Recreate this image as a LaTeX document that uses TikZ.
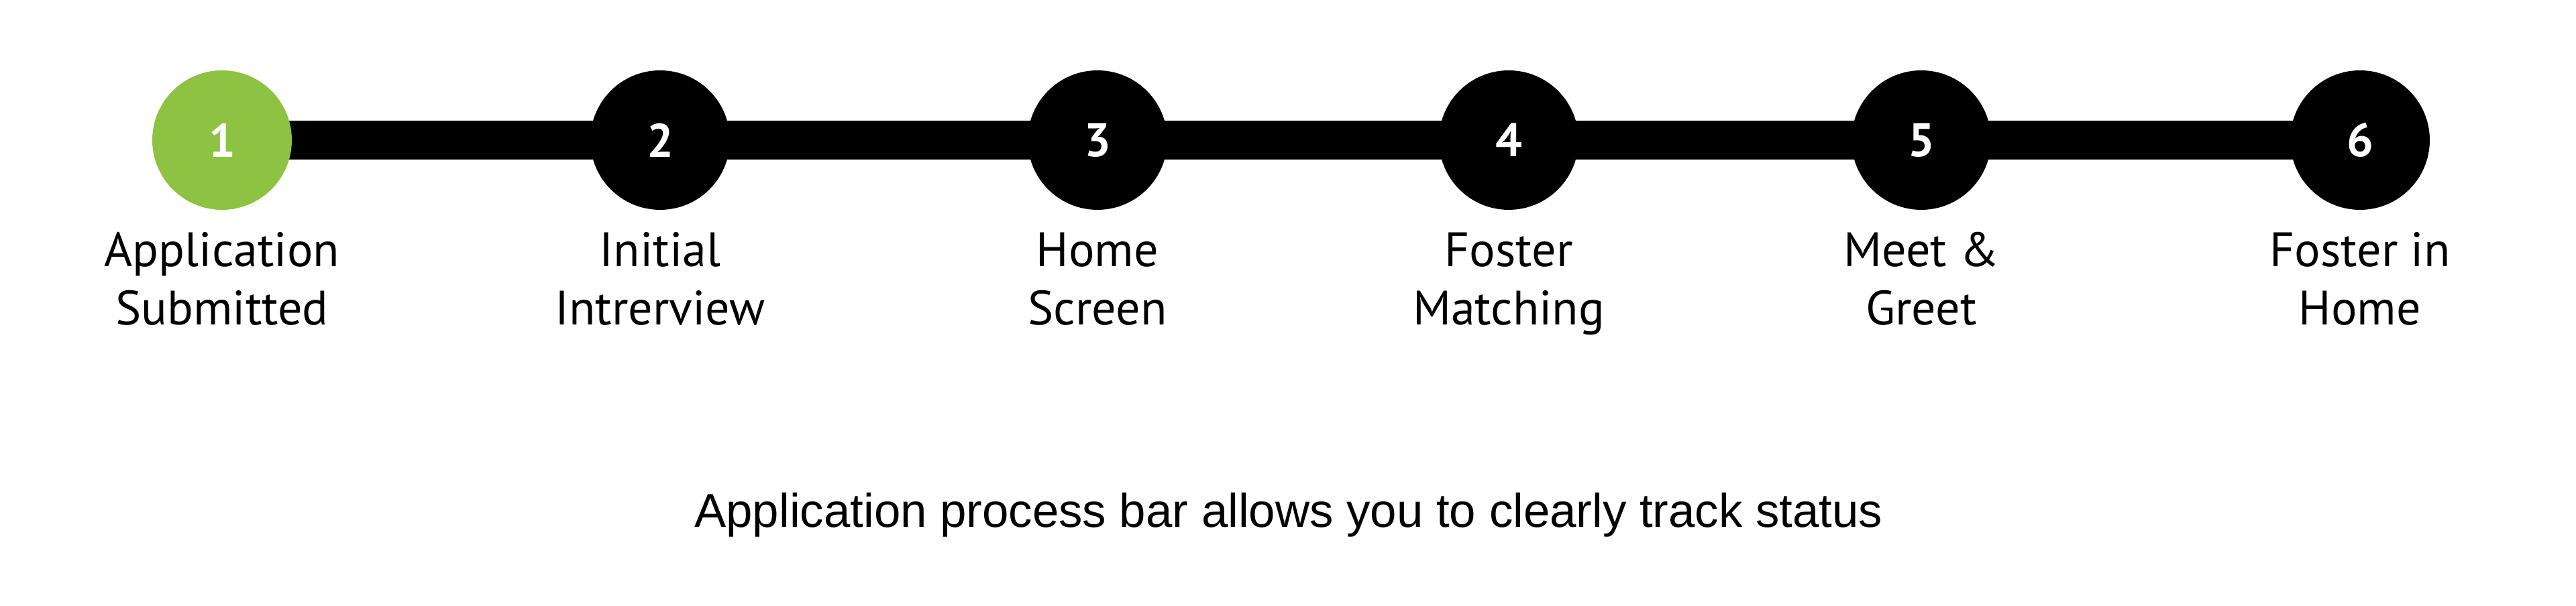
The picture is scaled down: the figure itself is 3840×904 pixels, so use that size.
\documentclass[tikz,border=0pt]{standalone}
\usepackage{fontspec}
\setmainfont{PT Sans}
\newfontfamily\captionfont{Liberation Sans}
\usetikzlibrary{backgrounds}
\definecolor{donegreen}{RGB}{141,194,66}

\begin{document}
\begin{tikzpicture}[x=0.1mm,y=-0.1mm,
  stepdot/.style={circle,fill=black,minimum size=20.8mm,inner sep=0pt,text=white,font=\fontsize{20}{24}\selectfont\bfseries},
  steptext/.style={anchor=base,align=center,font=\fontsize{20.5}{25}\selectfont}]
\useasboundingbox (0,0) rectangle (3840,904);

% steps
\node[stepdot,fill=donegreen] (s1) at (331,209) {1};
\node[stepdot] (s2) at (984,209) {2};
\node[stepdot] (s3) at (1636,209) {3};
\node[stepdot] (s4) at (2249,209) {4};
\node[stepdot] (s5) at (2864,209) {5};
\node[stepdot] (s6) at (3518,209) {6};

% bar behind the steps
\begin{scope}[on background layer]
\draw[line width=5.8mm] (s1.center) -- (s6.center);
\end{scope}

% step names (base = last line)
\node[steptext] (l1) at (331,485) {Application\\Submitted};
\node[steptext] (l2) at (984,485) {Initial\\Intrerview};
\node[steptext] (l3) at (1636,485) {Home\\Screen};
\node[steptext] (l4) at (2249,485) {Foster\\Matching};
\node[steptext] (l5) at (2864,485) {Meet \&\\Greet};
\node[steptext] (l6) at (3518,485) {Foster in\\Home};

\node[anchor=base,font=\captionfont\fontsize{20.15}{24}\selectfont] (caption) at (1921,787) {Application process bar allows you to clearly track status};

\end{tikzpicture}
\end{document}
